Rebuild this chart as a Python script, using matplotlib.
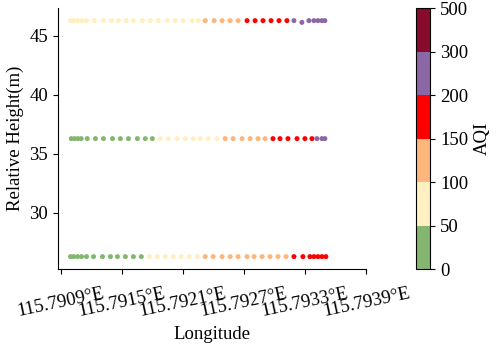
import numpy as np
import matplotlib
matplotlib.use('Agg')
import matplotlib.pyplot as plt
from matplotlib.colors import ListedColormap, BoundaryNorm

plt.rcParams['font.family'] = ['Liberation Serif', 'DejaVu Serif']

# flight tracks at three heights (longitude, AQI)
lon_low = [115.790993, 115.791023, 115.791062, 115.791101, 115.791150, 115.791219,
           115.791307, 115.791385, 115.791454, 115.791532, 115.791611, 115.791689,
           115.791768, 115.791846, 115.791925, 115.792003, 115.792081, 115.792160,
           115.792238, 115.792317, 115.792395, 115.792483, 115.792562, 115.792640,
           115.792728, 115.792797, 115.792876, 115.792954, 115.793032, 115.793111,
           115.793189, 115.793277, 115.793346, 115.793385, 115.793425, 115.793464,
           115.793503]
aqi_low = [32, 33, 35, 36, 38, 39, 40, 41, 42, 44, 45, 47,
           55, 60, 66, 72, 78, 85, 95,
           105, 110, 114, 118, 121, 124, 128, 132, 136, 140, 146,
           155, 162, 168, 172, 176, 180, 185]

lon_mid = [115.791000, 115.791032, 115.791065, 115.791098, 115.791157, 115.791238,
           115.791317, 115.791405, 115.791483, 115.791562, 115.791650, 115.791728,
           115.791797, 115.791875, 115.791954, 115.792042, 115.792120, 115.792199,
           115.792268, 115.792346, 115.792434, 115.792513, 115.792591, 115.792679,
           115.792758, 115.792836, 115.792905, 115.792983, 115.793052, 115.793130,
           115.793219, 115.793297, 115.793366, 115.793415, 115.793464, 115.793493]
aqi_mid = [30, 31, 33, 34, 36, 37, 39, 40, 42, 43, 45, 46, 48,
           55, 62, 68, 74, 80, 86, 92, 97,
           108, 115, 122, 128, 135, 142,
           158, 165, 172, 180, 188, 195,
           210, 225, 240]

lon_high = [115.790993, 115.791023, 115.791062, 115.791101, 115.791150, 115.791228,
            115.791316, 115.791395, 115.791464, 115.791542, 115.791611, 115.791699,
            115.791777, 115.791856, 115.791944, 115.792023, 115.792101, 115.792189,
            115.792248, 115.792317, 115.792405, 115.792483, 115.792562, 115.792640,
            115.792728, 115.792807, 115.792885, 115.792964, 115.793042, 115.793120,
            115.793189, 115.793267, 115.793336, 115.793385, 115.793425, 115.793464,
            115.793493]
aqi_high = [52, 54, 56, 58, 60, 62, 64, 66, 68, 70, 72, 74, 76, 78, 80, 83, 86, 90, 95,
            110, 118, 125, 132, 140,
            155, 162, 170, 178, 185, 192,
            205, 215, 225, 235, 245, 255, 265]
height_high = [46.3] * 31 + [46.15, 46.3, 46.3, 46.3, 46.3, 46.3]

heights = [26.3, 36.3]

aqi_bounds = [0, 50, 100, 150, 200, 300, 500]
aqi_colors = ['#85b670', '#fff0c2', '#fdb67b', '#ff0000', '#8b68a5', '#880b2b']

cmap = ListedColormap(aqi_colors)
norm = BoundaryNorm(aqi_bounds, cmap.N)

fig = plt.figure(figsize=(4.98, 3.48), dpi=100)
ax = fig.add_axes([0.1165, 0.227, 0.619, 0.750])
cax = fig.add_axes([0.836, 0.227, 0.028, 0.750])

ax.scatter(lon_low, [heights[0]] * len(lon_low), c=aqi_low, cmap=cmap, norm=norm, s=13, lw=0)
ax.scatter(lon_mid, [heights[1]] * len(lon_mid), c=aqi_mid, cmap=cmap, norm=norm, s=13, lw=0)
sc = ax.scatter(lon_high, height_high, c=aqi_high, cmap=cmap, norm=norm, s=13, lw=0)

xt = np.round(np.arange(115.7909, 115.79391, 0.0006), 4)
ax.set_xlim(115.79087, 115.7939)
ax.set_xticks(xt)
ax.set_xticklabels(['%.4f°E' % v for v in xt], rotation=12, ha='center')
ax.set_ylim(25.25, 47.37)
ax.set_yticks([30, 35, 40, 45])
ax.tick_params(labelsize=13.5)
ax.tick_params(axis='x', pad=8)
ax.spines['top'].set_visible(False)
ax.spines['right'].set_visible(False)
ax.set_xlabel('Longitude', fontsize=13.5, labelpad=4)
ax.set_ylabel('Relative Height(m)', fontsize=13.5)

cb = fig.colorbar(sc, cax=cax, ticks=aqi_bounds)
cb.ax.tick_params(labelsize=13.5)
cb.set_label('AQI', fontsize=13.5)
cb.outline.set_edgecolor('black')

plt.savefig('out.png', dpi=100)
